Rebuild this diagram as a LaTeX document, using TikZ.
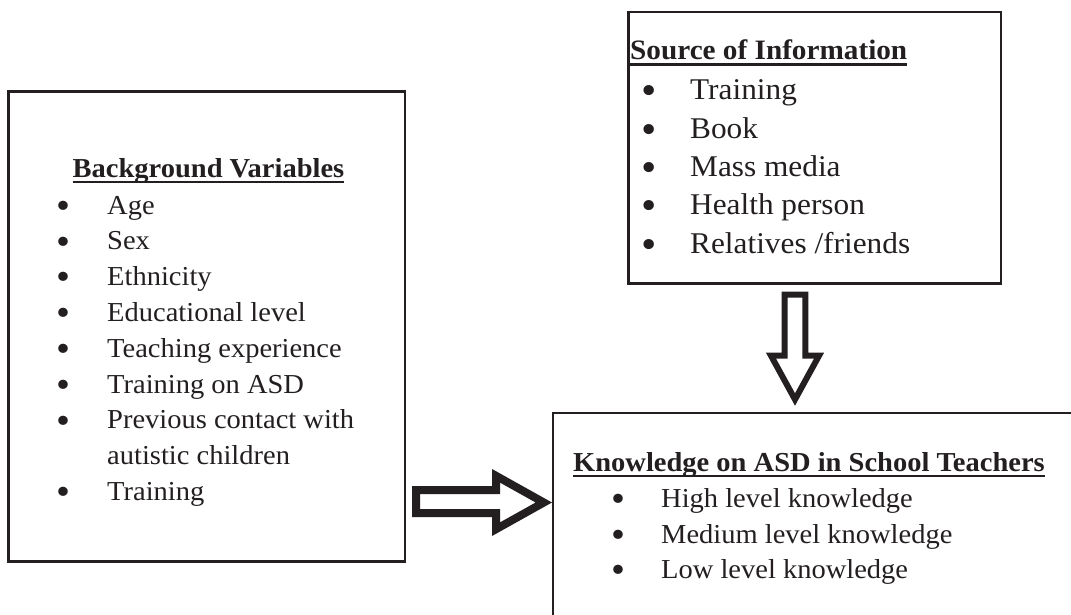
\documentclass[tikz,border=0pt]{standalone}
\usepackage{fontspec}
\setmainfont{Liberation Serif}[FakeStretch=1.04]
\definecolor{ink}{RGB}{35,31,32}
\newcommand\ultitle[1]{\setbox0\hbox{\bfseries #1}\rlap{\rule[-5.7pt]{\wd0}{2.4pt}}\box0}
\newcommand\bigbul{\smash{\raisebox{-0.16em}{\scalebox{1.4}{•}}}}
\begin{document}
\begin{tikzpicture}[x=1pt,y=-1pt,
  box/.style={draw=ink, line width=2.5pt, inner sep=0pt, rectangle},
  itm/.style={anchor=base west, inner sep=0pt, text=ink},
  bul/.style={anchor=base, inner sep=0pt, text=ink},
  ttl/.style={inner sep=0pt, text=ink},
  fa/.style={font=\fontsize{27.4}{33}\selectfont},
  fb/.style={font=\fontsize{30.1}{36}\selectfont},
  blockarrow/.style={draw=ink, line width=#1, line join=miter, fill=white}]
\useasboundingbox (0,0) rectangle (1071,615);
\clip (0,0) rectangle (1071,615);
\fill[white] (0,0) rectangle (1071,615);

% boxes
\node[box, minimum width=396.1pt, minimum height=470pt] (bg) at (206.75,326.5) {};
\node[box, minimum width=372.3pt, minimum height=271.5pt] (src) at (814.85,147.75) {};
\node[box, minimum width=537.2pt, minimum height=227pt] (kn) at (821.4,526.5) {};

% left box
\node[ttl, anchor=base, fa] (bgt) at (208.5,177.7) {\ultitle{Background Variables}};
\foreach \t [count=\i from 0] in {Age,Sex,Ethnicity,Educational level,Teaching experience,Training on ASD,Previous contact with}{
  \node[bul, fa] (bb\i) at (63,214+35.8*\i) {\bigbul};
  \node[itm, fa] (bi\i) at (107,214+35.8*\i) {\t};
}
\node[itm, fa] (bi7) at (107,464.6) {autistic children};
\node[bul, fa] (bb8) at (63,500.4) {\bigbul};
\node[itm, fa] (bi8) at (107,500.4) {Training};

% top right box
\node[ttl, anchor=base west, font=\fontsize{28.1}{33}\selectfont] (srct) at (630,60) {\ultitle{Source of Information}};
\foreach \t [count=\i from 0] in {Training,Book,Mass media,Health person,Relatives /friends}{
  \node[bul, fb] (sb\i) at (649.3,100+38.3*\i) {\bigbul};
  \node[itm, fb] (si\i) at (690,100+38.3*\i) {\t};
}

% bottom right box
\node[ttl, anchor=base west, fa] (knt) at (573,471.7) {\ultitle{Knowledge on ASD in School Teachers}};
\foreach \t [count=\i from 0] in {High level knowledge,Medium level knowledge,Low level knowledge}{
  \node[bul, fa] (kb\i) at (618,507.5+35.5*\i) {\bigbul};
  \node[itm, fa] (ki\i) at (661,507.5+35.5*\i) {\t};
}

% block arrows
\draw[blockarrow=8pt] (416,490) -- (496,490) -- (496,475.8) -- (543.8,502.5)
  -- (496,529.2) -- (496,513) -- (416,513) -- cycle;
\draw[blockarrow=6pt] (784.7,294.7) -- (805.3,294.7) -- (805.3,355.7) -- (819,355.7)
  -- (795,399.5) -- (771,355.7) -- (784.7,355.7) -- cycle;
\end{tikzpicture}
\end{document}
